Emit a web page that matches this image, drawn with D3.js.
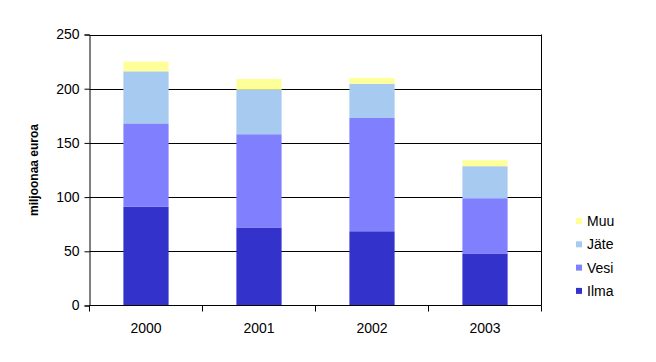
<!DOCTYPE html>
<meta charset="utf-8">
<style>
    body { margin: 0; background: #fff; }
    svg { font-family: "Liberation Sans", Arial, sans-serif; }
</style>
<body>
<script src="https://cdn.jsdelivr.net/npm/d3@7"></script>
<script>
    var years = ["2000", "2001", "2002", "2003"];
    var series = ["Ilma", "Vesi", "Jäte", "Muu"];
    var ilma = [91, 72, 68.5, 48];
    var vesi = [77, 86, 104.5, 51];
    var jate = [48, 41, 31.5, 29.5];
    var muu = [9, 10, 5.5, 5.5];
    var yTicks = [0, 50, 100, 150, 200, 250];
    var colors = ["#3333cc", "#8080ff", "#a6caf0", "#ffff99"];

    var width = 656, height = 362;
    var plotL = 89.5, plotR = 541.5, plotT = 34.5, plotB = 305.5;

    var rows = years.map(function(y, i) {
        return { year: y, "Ilma": ilma[i], "Vesi": vesi[i], "Jäte": jate[i], "Muu": muu[i] };
    });
    var stack = d3.stack().keys(series)(rows);

    var x = d3.scaleBand().domain(years).range([plotL, plotR]).paddingInner(0.6).paddingOuter(0.3);
    var xEdge = d3.scaleBand().domain(years).range([plotL, plotR]);
    var y = d3.scaleLinear().domain([0, 250]).range([plotB, plotT]);

    var svg = d3.select("body").append("svg")
        .attr("width", width)
        .attr("height", height);

    // gridlines
    svg.append("g").selectAll("line")
        .data(yTicks.slice(1))
        .enter().append("line")
        .attr("x1", plotL).attr("x2", plotR)
        .attr("y1", function(d) { return Math.round(y(d)) + 0.5; })
        .attr("y2", function(d) { return Math.round(y(d)) + 0.5; })
        .attr("stroke", "#000");

    // bars
    svg.append("g").selectAll("g")
        .data(stack)
        .enter().append("g")
        .attr("fill", function(d, i) { return colors[i]; })
        .selectAll("rect")
        .data(function(d) { return d; })
        .enter().append("rect")
        .attr("x", function(d) { return x(d.data.year); })
        .attr("width", x.bandwidth())
        .attr("y", function(d) { return y(d[1]); })
        .attr("height", function(d) { return y(d[0]) - y(d[1]); });

    // right border
    svg.append("line")
        .attr("x1", plotR).attr("x2", plotR)
        .attr("y1", plotT).attr("y2", plotB)
        .attr("stroke", "#000");

    // y axis
    var yAxis = svg.append("g")
        .attr("transform", "translate(" + plotL + ",0)")
        .call(d3.axisLeft(y).tickValues(yTicks).tickSize(5).tickPadding(5));
    yAxis.selectAll("text").attr("font-size", 14).attr("fill", "#000").attr("font-family", "Liberation Sans, Arial, sans-serif");
    yAxis.selectAll("line, path").attr("stroke", "#000");

    // x axis
    var xAxis = svg.append("g")
        .attr("transform", "translate(0," + plotB + ")");
    xAxis.append("line")
        .attr("x1", plotL).attr("x2", plotR)
        .attr("y1", 0).attr("y2", 0)
        .attr("stroke", "#000");
    xAxis.selectAll("line.tk")
        .data(years.concat(["end"]))
        .enter().append("line")
        .attr("class", "tk")
        .attr("x1", function(d, i) { return i < years.length ? xEdge(d) : plotR; })
        .attr("x2", function(d, i) { return i < years.length ? xEdge(d) : plotR; })
        .attr("y1", 0).attr("y2", 6)
        .attr("stroke", "#000");
    xAxis.selectAll("text")
        .data(years)
        .enter().append("text")
        .attr("x", function(d) { return x(d) + x.bandwidth() / 2; })
        .attr("y", 27)
        .attr("text-anchor", "middle")
        .attr("font-size", 14)
        .text(function(d) { return d; });

    // y title
    svg.append("text")
        .attr("transform", "translate(38,170) rotate(-90)")
        .attr("text-anchor", "middle")
        .attr("font-size", 12)
        .attr("font-weight", "bold")
        .text("miljoonaa euroa");

    // legend
    var legend = svg.append("g").selectAll("g")
        .data(series.slice().reverse())
        .enter().append("g")
        .attr("transform", function(d, i) { return "translate(576," + (221 + i * 23.3) + ")"; });
    legend.append("rect")
        .attr("x", 0).attr("y", -3)
        .attr("width", 6).attr("height", 6)
        .attr("fill", function(d) { return colors[series.indexOf(d)]; });
    legend.append("text")
        .attr("x", 11).attr("y", 5)
        .attr("font-size", 14)
        .text(function(d) { return d; });
</script>
